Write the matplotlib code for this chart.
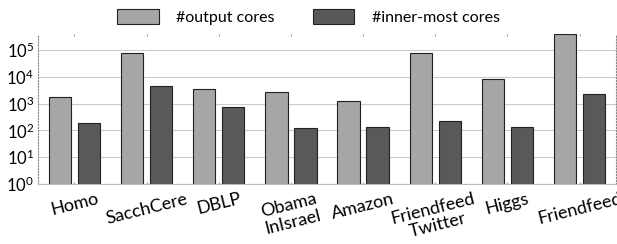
import matplotlib.pyplot as plt
import numpy as np

plt.rcParams['font.family'] = ['Lato', 'DejaVu Sans']
plt.rcParams['mathtext.default'] = 'regular'

# ================== 数据 ==================
datasets = ["Homo", "SacchCere", "DBLP", "Obama\nInIsrael", "Amazon",
            "Friendfeed\nTwitter", "Higgs", "Friendfeed"]
output_cores = [1800, 78000, 3500, 2700, 1250, 78000, 8300, 400000]
inner_cores = [190, 4500, 750, 122, 135, 225, 135, 2300]

fig = plt.figure(figsize=(6.17, 2.44), dpi=100)
ax = fig.add_axes([0.062, 0.246, 0.936, 0.615])

x = np.arange(len(datasets))
w = 0.31
b1 = ax.bar(x - 0.2, output_cores, width=w, color='#a6a6a6',
            edgecolor='#222222', linewidth=0.8, label='#output cores', zorder=3)
b2 = ax.bar(x + 0.2, inner_cores, width=w, color='#595959',
            edgecolor='#222222', linewidth=0.8, label='#inner-most cores', zorder=3)

ax.set_yscale('log')
ax.set_ylim(1, 10 ** 5.6)
ax.set_xlim(-0.5, len(datasets) - 0.5)
ax.set_yticks([10 ** k for k in range(6)])
ax.set_yticklabels([f"$10^{k}$" for k in range(6)], fontsize=12)
ax.yaxis.set_minor_locator(plt.NullLocator())
ax.grid(axis='y', color='#cccccc', linewidth=0.8, zorder=0)

ax.set_xticks(x)
ax.set_xticklabels(datasets, rotation=14, fontsize=13, ha='center',
                   linespacing=1.05)
ax.tick_params(axis='x', length=0, pad=5)
ax.tick_params(axis='x', which='major', top=True, direction='in',
               length=1.5, color='#999999')
ax.tick_params(axis='y', length=0, pad=3)

for s in ['left', 'right']:
    ax.spines[s].set_linestyle(':')
    ax.spines[s].set_color('#888888')
    ax.spines[s].set_linewidth(0.8)
ax.spines['top'].set_visible(False)
ax.spines['bottom'].set_color('#bbbbbb')
ax.spines['bottom'].set_linewidth(0.8)

fig.legend(handles=[b1, b2], loc='upper center', bbox_to_anchor=(0.5, 1.02),
           ncol=2, frameon=False, fontsize=11.5, handlelength=2.6,
           handleheight=1.0, columnspacing=2.4, handletextpad=1.1)

plt.savefig('out.png', dpi=100, facecolor='white')
